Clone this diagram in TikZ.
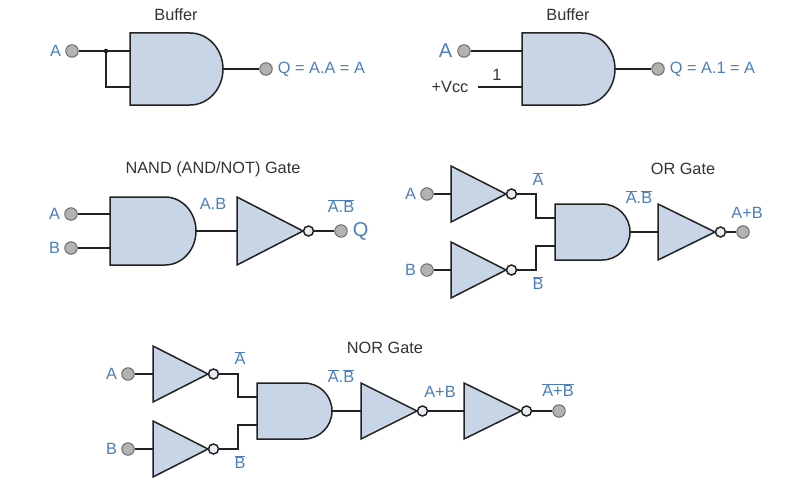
\documentclass[tikz,border=0pt]{standalone}
\usepackage{fontspec}
\setmainfont{Liberation Sans}
\usetikzlibrary{positioning}
\definecolor{gatefill}{HTML}{C8D5E6}
\definecolor{termfill}{HTML}{B2B2B2}
\definecolor{lblblue}{HTML}{4A7EBF}
\definecolor{wirecol}{HTML}{222222}
\newcommand{\nbar}[1]{$\overline{\mbox{#1}}$}
\tikzset{
  wire/.style={draw=wirecol,line width=1.5pt},
  gate/.style={draw=wirecol,line width=1.5pt,fill=gatefill,line join=miter},
  term/.style={circle,draw=wirecol!70,fill=termfill,line width=0.9pt,minimum size=12.5pt,inner sep=0pt},
  bubble/.style={circle,draw=wirecol,fill=gatefill!40,line width=1.5pt,minimum size=10pt,inner sep=0pt},
  dotnode/.style={circle,fill=black,minimum size=4.5pt,inner sep=0pt},
  lbl/.style={text=lblblue,font=\fontsize{16.3}{19}\selectfont,inner sep=0pt},
  biglbl/.style={text=lblblue,font=\fontsize{20}{23}\selectfont,inner sep=0pt},
  title/.style={text=black!80,font=\fontsize{16.3}{19}\selectfont,inner sep=0pt},
  % width, height, length of the curved part
  pics/andg/.style n args={3}{code={
    \draw [gate] (0,-#2/2) -- ({#1-#3},-#2/2)
      .. controls ({#1-#3+0.5523*#3},-#2/2) and (#1,{-0.5523*#2/2}) .. (#1,0)
      .. controls (#1,{0.5523*#2/2}) and ({#1-#3+0.5523*#3},#2/2) .. ({#1-#3},#2/2)
      -- (0,#2/2) -- cycle;
    \coordinate (-in1) at (0,-#2/4);
    \coordinate (-in2) at (0,#2/4);
    \coordinate (-out) at (#1,0);
  }},
  % width, height
  pics/invg/.style n args={2}{code={
    \draw [gate] (0,-#2/2) -- (#1,0) -- (0,#2/2) -- cycle;
    \node [bubble] (-bub) at (#1+5.5,0) {};
    \coordinate (-in) at (0,0);
  }},
}
\begin{document}
\begin{tikzpicture}[x=1pt,y=-1pt]
  \useasboundingbox (0,0) rectangle (789,495);

  % buffer 1
  \node [title] (bufatitle) at (176,15) {Buffer};
  \node [term] (bufaA) at (72,51) {};
  \node [term] (bufaQ) at (266,69) {};
  \node [dotnode] (bufadot) at (106,51) {};
  \node [lbl,left=4pt of bufaA] (bufaAl) {A};
  \node [lbl,right=5pt of bufaQ] (bufaQl) {Q = A.A = A};
  \pic (bufa) at (130,69) {andg={93}{72}{33}};
  \draw [wire] (bufaA) -- (bufa-in1);
  \draw [wire] (bufadot) |- (bufa-in2);
  \draw [wire] (bufa-out) -- (bufaQ);

  % buffer 2
  \node [title] (bufbtitle) at (568,15) {Buffer};
  \node [term] (bufbA) at (464,51) {};
  \node [term] (bufbQ) at (658,69) {};
  \node [biglbl,left=5pt of bufbA] (bufbAl) {A};
  \node [lbl,right=5pt of bufbQ] (bufbQl) {Q = A.1 = A};
  \node [title] (vcc) at (450,87) {+Vcc};
  \node [title] (one) at (497,75) {1};
  \coordinate (vccend) at (478,87);
  \pic (bufb) at (522,69) {andg={93}{72}{33}};
  \draw [wire] (bufbA) -- (bufb-in1);
  \draw [wire] (vccend) -- (bufb-in2);
  \draw [wire] (bufb-out) -- (bufbQ);

  % NAND
  \node [title] (nandtitle) at (213,169) {NAND (AND/NOT) Gate};
  \node [term] (nandA) at (71,214) {};
  \node [term] (nandB) at (71,248) {};
  \node [term] (nandQ) at (341,231) {};
  \node [lbl,left=4pt of nandA] (nandAl) {A};
  \node [lbl,left=4pt of nandB] (nandBl) {B};
  \node [biglbl,right=5pt of nandQ] (nandQl) {Q};
  \node [lbl] (nandab) at (213,204) {A.B};
  \node [lbl] (nandnab) at (341,206) {\nbar{A.B}};
  \pic (nanda) at (110,231) {andg={86}{68}{31}};
  \pic (nandi) at (237,231) {invg={66}{68}};
  \draw [wire] (nandA) -- (nanda-in1);
  \draw [wire] (nandB) -- (nanda-in2);
  \draw [wire] (nanda-out) -- (nandi-in);
  \draw [wire] (nandi-bub) -- (nandQ);

  % OR
  \node [title] (ortitle) at (683,169) {OR Gate};
  \node [term] (orA) at (427,194) {};
  \node [term] (orB) at (427,270) {};
  \node [term] (orQ) at (743,232) {};
  \node [lbl,left=4pt of orA] (orAl) {A};
  \node [lbl,left=4pt of orB] (orBl) {B};
  \node [lbl] (ornA) at (538,179) {\nbar{A}};
  \node [lbl] (ornB) at (538,283) {\nbar{B}};
  \node [lbl] (ornAB) at (639,197) {\nbar{A}.\nbar{B}};
  \node [lbl] (orsum) at (747,213) {A+B};
  \pic (ori1) at (451,194) {invg={55}{56}};
  \pic (ori2) at (451,270) {invg={55}{56}};
  \pic (ora) at (555,232) {andg={75}{56}{28}};
  \pic (ori3) at (658,232) {invg={57}{56}};
  \draw [wire] (orA) -- (ori1-in);
  \draw [wire] (orB) -- (ori2-in);
  \draw [wire] (ori1-bub) -- (536,194) |- (ora-in1);
  \draw [wire] (ori2-bub) -- (536,270) |- (ora-in2);
  \draw [wire] (ora-out) -- (ori3-in);
  \draw [wire] (ori3-bub) -- (orQ);

  % NOR
  \node [title] (nortitle) at (385,348) {NOR Gate};
  \node [term] (norA) at (128,374) {};
  \node [term] (norB) at (128,449) {};
  \node [term] (norQ) at (559,411) {};
  \node [lbl,left=4pt of norA] (norAl) {A};
  \node [lbl,left=4pt of norB] (norBl) {B};
  \node [lbl] (nornA) at (240,358) {\nbar{A}};
  \node [lbl] (nornB) at (240,462) {\nbar{B}};
  \node [lbl] (nornAB) at (341,376) {\nbar{A}.\nbar{B}};
  \node [lbl] (norsum) at (440,392) {A+B};
  \node [lbl] (nornsum) at (558,390) {\nbar{A+B}};
  \pic (nori1) at (153,374) {invg={55}{56}};
  \pic (nori2) at (153,449) {invg={55}{56}};
  \pic (nora) at (257,411) {andg={75}{56}{28}};
  \pic (nori3) at (361,411) {invg={56}{56}};
  \pic (nori4) at (464,411) {invg={57}{56}};
  \draw [wire] (norA) -- (nori1-in);
  \draw [wire] (norB) -- (nori2-in);
  \draw [wire] (nori1-bub) -- (238,374) |- (nora-in1);
  \draw [wire] (nori2-bub) -- (238,449) |- (nora-in2);
  \draw [wire] (nora-out) -- (nori3-in);
  \draw [wire] (nori3-bub) -- (nori4-in);
  \draw [wire] (nori4-bub) -- (norQ);
\end{tikzpicture}
\end{document}
